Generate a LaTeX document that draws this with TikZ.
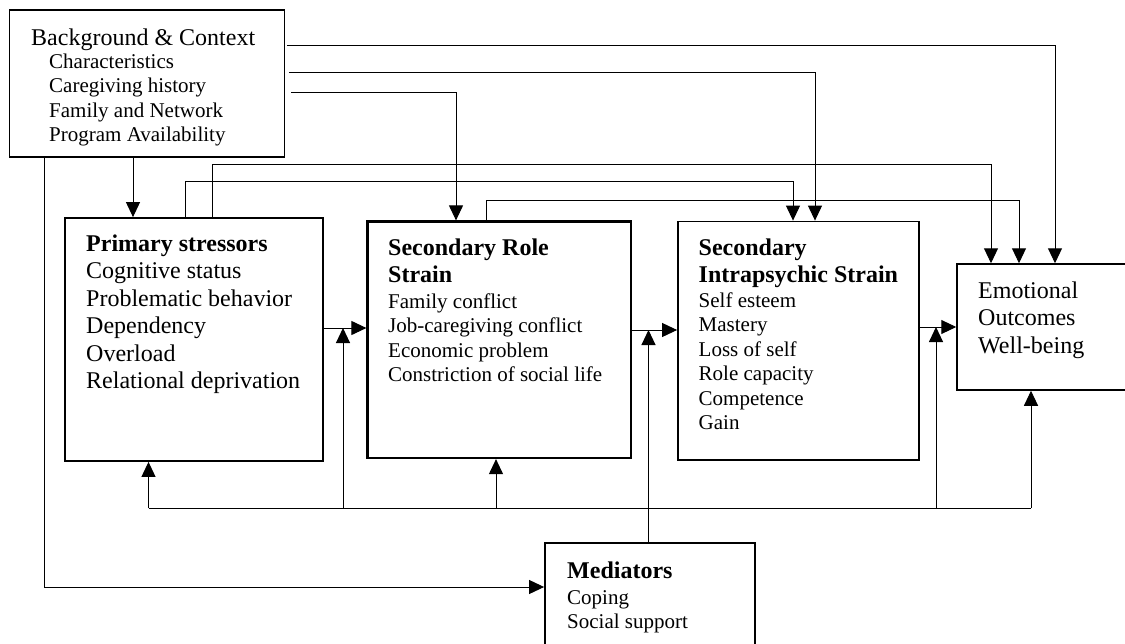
\documentclass[tikz,border=0pt]{standalone}
\usepackage{fontspec}
\setmainfont{Liberation Serif}
\usetikzlibrary{arrows.meta}
\begin{document}
\begin{tikzpicture}[x=1pt,y=-1pt,
  box/.style={draw, line width=#1, inner sep=0pt, fill=white},
  head/.style={font=\fontsize{24}{27.5}\selectfont\bfseries, anchor=base west, inner sep=0pt},
  big/.style={font=\fontsize{24}{27.5}\selectfont, anchor=base west, inner sep=0pt},
  small/.style={font=\fontsize{21}{24.5}\selectfont, anchor=base west, inner sep=0pt},
  link/.style={line width=1pt},
  arr/.style={link, -{Triangle[length=15pt,width=14pt]}},
]
\useasboundingbox (0,0) rectangle (1125,643);

% boxes
\node[box=1.5pt, minimum width=275pt, minimum height=147pt] (bg) at (147,83.5) {};
\node[box=1.8pt, minimum width=258pt, minimum height=243pt] (prim) at (194,339.5) {};
\node[box=2.2pt, minimum width=263.5pt, minimum height=236.5pt] (role) at (499.25,339.75) {};
\node[box=1.8pt, minimum width=241pt, minimum height=238.5pt] (intra) at (798.5,340.75) {};
\node[box=1.5pt, minimum width=183pt, minimum height=126pt] (emo) at (1048.5,327) {};
\node[box=1.8pt, minimum width=210pt, minimum height=127pt] (med) at (650,606.5) {};

% texts
\node[big] (bgh) at (31,45) {Background \& Context};
\foreach \t [count=\i] in {Characteristics, Caregiving history, Family and Network, Program Availability}
  \node[small] (bgi\i) at (49,{68+24.5*(\i-1)}) {\t};

\node[head] (primh) at (86,251) {Primary stressors};
\foreach \t [count=\i] in {Cognitive status, Problematic behavior, Dependency, Overload, Relational deprivation}
  \node[big] (primi\i) at (86,{278.5+27.5*(\i-1)}) {\t};

\node[head] (roleh1) at (388,255) {Secondary Role};
\node[head] (roleh2) at (388,282) {Strain};
\foreach \t [count=\i] in {Family conflict, Job-caregiving conflict, Economic problem, Constriction of social life}
  \node[small] (rolei\i) at (388,{308+24.5*(\i-1)}) {\t};

\node[head] (intrah1) at (698.5,255) {Secondary};
\node[head] (intrah2) at (698.5,282) {Intrapsychic Strain};
\foreach \t [count=\i] in {Self esteem, Mastery, Loss of self, Role capacity, Competence, Gain}
  \node[small] (intrai\i) at (698.5,{307+24.5*(\i-1)}) {\t};

\foreach \t [count=\i] in {Emotional, Outcomes, Well-being}
  \node[big] (emoi\i) at (978,{298+27.5*(\i-1)}) {\t};

\node[head] (medh) at (567,578) {Mediators};
\node[small] (medi1) at (567,604) {Coping};
\node[small] (medi2) at (567,628) {Social support};

% route points
\coordinate (t1) at (1055,45);
\coordinate (t2) at (815,72);
\coordinate (t3) at (456,92);
\coordinate (c4) at (133,0);
\coordinate (c5) at (44.5,587);
\coordinate (c6) at (185,181);
\coordinate (c6b) at (793,181);
\coordinate (c7) at (212.5,164);
\coordinate (c7b) at (991,164);
\coordinate (c8) at (486,200);
\coordinate (c8b) at (1019,200);
\coordinate (m1) at (0,328);
\coordinate (m2) at (0,330);
\coordinate (m3) at (0,327);
\coordinate (fb1) at (148.5,508);
\coordinate (fb2) at (1031,508);
\coordinate (u1) at (343,508);
\coordinate (u2) at (496,508);
\coordinate (u3) at (936,508);
\coordinate (u4) at (648.5,330);

% background & context links
\draw[arr] ([xshift=1.5pt]bg.east |- t1) -| (t1 |- emo.north);
\draw[arr] ([xshift=3.5pt]bg.east |- t2) -| (t2 |- intra.north);
\draw[arr] ([xshift=6pt]bg.east |- t3) -| (t3 |- role.north);
\draw[arr] (bg.south -| c4) -- (prim.north -| c4);
\draw[arr] (bg.south -| c5) |- (med.west |- c5);

% links from the top of the boxes
\draw[arr] (prim.north -| c6) |- (c6b) -- (c6b |- intra.north);
\draw[arr] (prim.north -| c7) |- (c7b) -- (c7b |- emo.north);
\draw[arr] (role.north -| c8) |- (c8b) -- (c8b |- emo.north);

% main chain
\draw[arr] (prim.east |- m1) -- (role.west |- m1);
\draw[arr] (role.east |- m2) -- (intra.west |- m2);
\draw[arr] (intra.east |- m3) -- (emo.west |- m3);

% feedback line below
\draw[link] (fb1) -- (fb2);
\draw[arr] (fb1) -- (prim.south -| fb1);
\draw[arr] (u1) -- (u1 |- m1);
\draw[arr] (u2) -- (role.south -| u2);
\draw[arr] (u3) -- (u3 |- m3);
\draw[arr] (fb2) -- (emo.south -| fb2);

% mediators
\draw[arr] (med.north -| u4) -- (u4);
\end{tikzpicture}
\end{document}
